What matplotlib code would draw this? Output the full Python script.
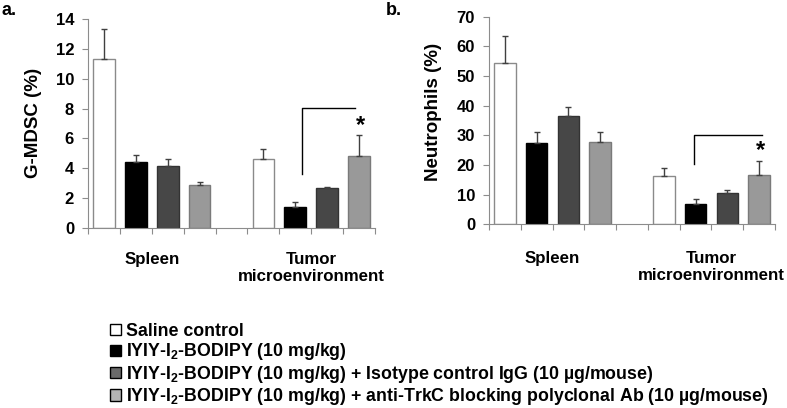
import matplotlib
matplotlib.use("Agg")
import matplotlib.pyplot as plt
from matplotlib.patches import Patch

plt.rcParams['font.family'] = ['Liberation Sans', 'DejaVu Sans']
plt.rcParams['font.weight'] = 'bold'
plt.rcParams['mathtext.fontset'] = 'custom'
plt.rcParams['mathtext.rm'] = 'Liberation Sans:bold'
plt.rcParams['mathtext.bf'] = 'Liberation Sans:bold'

# data
groups = ['Spleen', 'Tumor\nmicroenvironment']
treatments = ['Saline control',
              r'IYIY-I$_2$-BODIPY (10 mg/kg)',
              r'IYIY-I$_2$-BODIPY (10 mg/kg) + Isotype control IgG (10 µg/mouse)',
              r'IYIY-I$_2$-BODIPY (10 mg/kg) + anti-TrkC blocking polyclonal Ab (10 µg/mouse)']

# G-MDSC (%) per treatment, [spleen, tumor]
mdsc_mean = [[11.3, 4.65], [4.4, 1.4], [4.15, 2.7], [2.85, 4.8]]
mdsc_err = [[2.0, 0.65], [0.5, 0.35], [0.5, 0.07], [0.2, 1.4]]

# Neutrophils (%) per treatment, [spleen, tumor]
neut_mean = [[54.3, 16.3], [27.3, 6.9], [36.5, 10.4], [27.6, 16.6]]
neut_err = [[9.3, 2.6], [3.9, 1.5], [3.1, 1.3], [3.4, 4.8]]

fills = ['white', 'black', '#474747', '#999999']
edges = ['#8a8a8a', 'black', '#333333', '#7a7a7a']
legend_fills = ['white', 'black', '#6a6a6a', '#b4b4b4']

W, H = 787, 408
fig = plt.figure(figsize=(W / 100, H / 100), dpi=100)


def px_axes(l, t, r, b):
    return fig.add_axes([l / W, 1 - b / H, (r - l) / W, (b - t) / H])


def draw_panel(ax, means, errs, ymax, ystep, bracket, star, label_pad):
    for i in range(4):
        xs = [i, i + 5]
        ax.bar(xs, means[i], width=0.68, color=fills[i], edgecolor=edges[i],
               linewidth=1, zorder=2)
        ax.errorbar(xs, means[i], yerr=[[0, 0], errs[i]], fmt='none',
                    ecolor='#404040', elinewidth=1, capsize=2.5, capthick=1,
                    zorder=3)
    ax.set_xlim(-0.5, 8.5)
    ax.set_ylim(0, ymax)
    ax.set_yticks(range(0, ymax + 1, ystep))
    ax.xaxis.remove_overlapping_locs = False
    ax.set_xticks([x - 0.5 for x in range(10)])
    ax.set_xticklabels([])
    ax.set_xticks([1.5, 6.5], minor=True)
    ax.set_xticklabels(groups, minor=True, fontsize=12.2)
    ax.tick_params(axis='x', which='minor', length=0, pad=label_pad)
    ax.tick_params(axis='x', which='major', length=4, color='#8c8c8c')
    ax.tick_params(axis='y', length=4, color='#8c8c8c', labelsize=12, pad=6)
    for s in ['top', 'right']:
        ax.spines[s].set_visible(False)
    for s in ['left', 'bottom']:
        ax.spines[s].set_color('#8c8c8c')
    bx0, bx1, by0, by1 = bracket
    ax.plot([bx0, bx0, bx1], [by0, by1, by1], color='black', lw=1, zorder=4)
    ax.text(star[0], star[1], '*', ha='center', va='center', fontsize=17)


ax1 = px_axes(88, 19, 375, 228)
draw_panel(ax1, mdsc_mean, mdsc_err, 14, 2, (6.2, 7.87, 3.6, 8.05), (8.03, 6.85), 17)
ax2 = px_axes(489, 16.7, 775, 224.3)
draw_panel(ax2, neut_mean, neut_err, 70, 10, (5.94, 8.1, 20.3, 30.1), (8.04, 24.8), 19)

fig.text(33 / W, 1 - 123 / H, 'G-MDSC (%)', rotation=90, ha='center', va='center',
         fontsize=13.5)
fig.text(433 / W, 1 - 112 / H, 'Neutrophils (%)', rotation=90, ha='center',
         va='center', fontsize=13.5)
fig.text(1 / W, 1 - 2 / H, 'a.', ha='left', va='top', fontsize=13)
fig.text(386 / W, 1 - 2 / H, 'b.', ha='left', va='top', fontsize=13)

handles = [Patch(facecolor=f, edgecolor='black', linewidth=1) for f in legend_fills]
fig.legend(handles, treatments, loc='upper left',
           bbox_to_anchor=(110 / W, 1 - 323 / H), frameon=False,
           prop={'weight': 'bold', 'size': 12.8}, handlelength=0.6,
           handleheight=0.6, handletextpad=0.3, labelspacing=0.08,
           borderpad=0, borderaxespad=0)

fig.savefig('out.png', dpi=100)
